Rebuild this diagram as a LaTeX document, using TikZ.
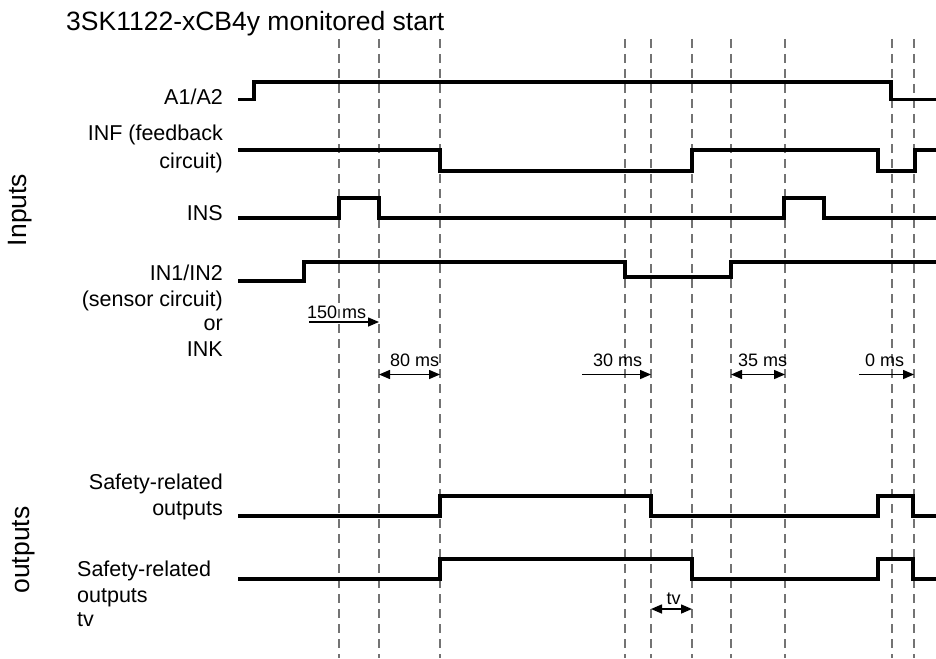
\documentclass[tikz,border=0pt]{standalone}
\usepackage{fontspec}
\setmainfont{Liberation Sans}
\usetikzlibrary{arrows.meta}
\begin{document}
\begin{tikzpicture}[x=1pt,y=-1pt,
  sig/.style={line width=3.4pt, line join=miter},
  guide/.style={draw=black!55, line width=1.1pt, dash pattern=on 9pt off 6pt},
  lab/.style={font=\fontsize{21.5}{25}\selectfont, inner sep=0pt},
  big/.style={font=\fontsize{26.5}{30}\selectfont, inner sep=0pt},
  dimlab/.style={font=\fontsize{18}{20}\selectfont, inner sep=0pt, anchor=base west},
  onearrow/.style={line width=1.5pt, -{Triangle[length=11pt,width=9pt]}},
  twoarrow/.style={line width=1.5pt, {Triangle[length=11pt,width=9pt]}-{Triangle[length=11pt,width=9pt]}}]
\useasboundingbox (0,0) rectangle (936,658);

% title and group labels
\node[big, anchor=base west] (title) at (66,31) {3SK1122-xCB4y monitored start};
\node[big, rotate=90] (inputs) at (20,210) {Inputs};
\node[big, rotate=90] (outputs) at (24,550) {outputs};

% guide lines
\foreach \x in {339,379,440,625,651,692,731,785,892,914}
  \draw[guide] (\x,39) -- (\x,658);

% signal labels
\node[lab, anchor=base east] (la) at (223,104.3) {A1/A2};
\node[lab, anchor=base east] (lf1) at (223,140) {INF (feedback};
\node[lab, anchor=base east] (lf2) at (223,168.3) {circuit)};
\node[lab, anchor=base east] (ls) at (223,220.7) {INS};
\node[lab, anchor=base east] (li1) at (223,280.7) {IN1/IN2};
\node[lab, anchor=base east] (li2) at (223,306.5) {(sensor circuit)};
\node[lab, anchor=base east] (li3) at (223,330.7) {or};
\node[lab, anchor=base east] (li4) at (223,356.7) {INK};
\node[lab, anchor=base east] (lo1) at (223,489) {Safety-related};
\node[lab, anchor=base east] (lo2) at (223,515) {outputs};
\node[lab, anchor=base west] (lt1) at (77,576.7) {Safety-related};
\node[lab, anchor=base west] (lt2) at (77,602.7) {outputs};
\node[lab, anchor=base west] (lt3) at (77,626.7) {tv};

% signals
\draw[sig] (238,99.5) -- (254,99.5) -- (254,82) -- (891,82) -- (891,99.5) -- (936,99.5);
\draw[sig] (238,150) -- (440,150) -- (440,171) -- (692,171) -- (692,150) -- (878,150) -- (878,171) -- (915,171) -- (915,150) -- (936,150);
\draw[sig] (238,218) -- (339,218) -- (339,198) -- (379,198) -- (379,218) -- (784,218) -- (784,198) -- (824,198) -- (824,218) -- (936,218);
\draw[sig] (238,281) -- (304,281) -- (304,262) -- (625,262) -- (625,277) -- (731,277) -- (731,262) -- (936,262);
\draw[sig] (238,516) -- (440,516) -- (440,496) -- (651,496) -- (651,516) -- (878,516) -- (878,496) -- (913,496) -- (913,516) -- (936,516);
\draw[sig] (238,579) -- (440,579) -- (440,559) -- (692,559) -- (692,579) -- (878,579) -- (878,559) -- (913,559) -- (913,579) -- (936,579);

% timing dimensions
\coordinate (a150s) at (309,322);   \coordinate (a150e) at (379,322);
\coordinate (a80s) at (379,374.5);  \coordinate (a80e) at (440,374.5);
\coordinate (a30s) at (582,374.5);  \coordinate (a30e) at (651,374.5);
\coordinate (a35s) at (731,374.5);  \coordinate (a35e) at (785,374.5);
\coordinate (a0s) at (859,374.5);   \coordinate (a0e) at (914,374.5);
\coordinate (atvs) at (651,609);    \coordinate (atve) at (692,609);
\draw[onearrow] (a150s) -- (a150e);
\draw[twoarrow] (a80s) -- (a80e);
\draw[onearrow] (a30s) -- (a30e);
\draw[twoarrow] (a35s) -- (a35e);
\draw[onearrow] (a0s) -- (a0e);
\draw[twoarrow] (atvs) -- (atve);
\node[dimlab] (t150) at (307,318) {150 ms};
\node[dimlab] (t80) at (390,366) {80 ms};
\node[dimlab] (t30) at (593,366) {30 ms};
\node[dimlab] (t35) at (738,366) {35 ms};
\node[dimlab] (t0) at (865,366) {0 ms};
\node[dimlab] (ttv) at (666.5,604) {tv};
\end{tikzpicture}
\end{document}
